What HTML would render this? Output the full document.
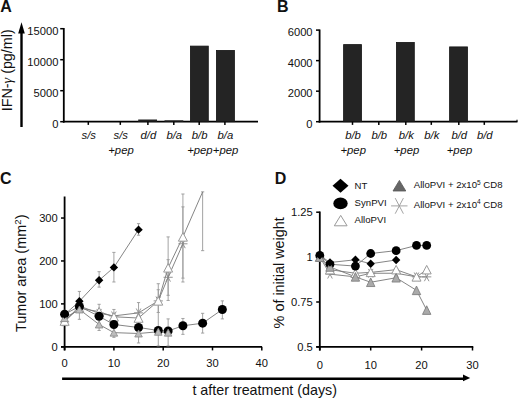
<!DOCTYPE html>
<html><head><meta charset="utf-8"><style>
html,body{margin:0;padding:0;background:#fff;}
svg{display:block;}
text{font-family:"Liberation Sans", sans-serif;}
</style></head><body>
<svg width="520" height="401" viewBox="0 0 520 401">
<rect width="520" height="401" fill="#fff"/>
<text x="0.20" y="12.00" font-size="16" text-anchor="start" font-weight="bold" font-style="normal" fill="#111" >A</text>
<line x1="21.50" y1="127.00" x2="21.50" y2="31.00" stroke="#000" stroke-width="2.4" />
<polygon points="18.20,33.50 24.80,33.50 21.50,22.30" fill="#000" stroke="none" stroke-width="1"/>
<text x="0.00" y="0.00" font-size="14.3" text-anchor="middle" font-weight="normal" font-style="normal" fill="#111" transform="translate(11.6,70.3) rotate(-90)">IFN-<tspan font-family="Liberation Serif" font-style="italic">γ</tspan> (pg/ml)</text>
<line x1="63.80" y1="28.00" x2="63.80" y2="122.60" stroke="#000" stroke-width="1.8" />
<line x1="62.90" y1="121.70" x2="258.00" y2="121.70" stroke="#000" stroke-width="1.8" />
<line x1="60.20" y1="121.70" x2="63.80" y2="121.70" stroke="#000" stroke-width="1.5" />
<text x="58.40" y="127.60" font-size="11.2" text-anchor="end" font-weight="normal" font-style="normal" fill="#111" >0</text>
<line x1="60.20" y1="90.70" x2="63.80" y2="90.70" stroke="#000" stroke-width="1.5" />
<text x="58.40" y="96.60" font-size="11.2" text-anchor="end" font-weight="normal" font-style="normal" fill="#111" >5000</text>
<line x1="60.20" y1="59.70" x2="63.80" y2="59.70" stroke="#000" stroke-width="1.5" />
<text x="58.40" y="65.60" font-size="11.2" text-anchor="end" font-weight="normal" font-style="normal" fill="#111" >10000</text>
<line x1="60.20" y1="28.70" x2="63.80" y2="28.70" stroke="#000" stroke-width="1.5" />
<text x="58.40" y="34.60" font-size="11.2" text-anchor="end" font-weight="normal" font-style="normal" fill="#111" >15000</text>
<rect x="138.20" y="119.50" width="18.80" height="2.20" fill="#222" stroke="none" stroke-width="0.8"/>
<rect x="164.50" y="120.30" width="18.80" height="1.40" fill="#222" stroke="none" stroke-width="0.8"/>
<rect x="190.40" y="46.10" width="17.90" height="75.60" fill="#242424" stroke="#151515" stroke-width="0.8"/>
<rect x="216.40" y="50.40" width="18.00" height="71.30" fill="#242424" stroke="#151515" stroke-width="0.8"/>
<line x1="88.30" y1="121.70" x2="88.30" y2="124.90" stroke="#000" stroke-width="1.5" />
<text x="88.80" y="139.30" font-size="11.3" text-anchor="middle" font-weight="normal" font-style="italic" fill="#111" >s/s</text>
<line x1="120.30" y1="121.70" x2="120.30" y2="124.90" stroke="#000" stroke-width="1.5" />
<text x="120.80" y="139.30" font-size="11.3" text-anchor="middle" font-weight="normal" font-style="italic" fill="#111" >s/s</text>
<text x="121.00" y="154.20" font-size="11.3" text-anchor="middle" font-weight="normal" font-style="italic" fill="#111" >+pep</text>
<line x1="147.90" y1="121.70" x2="147.90" y2="124.90" stroke="#000" stroke-width="1.5" />
<text x="148.40" y="139.30" font-size="11.3" text-anchor="middle" font-weight="normal" font-style="italic" fill="#111" >d/d</text>
<line x1="173.80" y1="121.70" x2="173.80" y2="124.90" stroke="#000" stroke-width="1.5" />
<text x="174.30" y="139.30" font-size="11.3" text-anchor="middle" font-weight="normal" font-style="italic" fill="#111" >b/a</text>
<line x1="199.20" y1="121.70" x2="199.20" y2="124.90" stroke="#000" stroke-width="1.5" />
<text x="199.70" y="139.30" font-size="11.3" text-anchor="middle" font-weight="normal" font-style="italic" fill="#111" >b/b</text>
<text x="199.90" y="154.20" font-size="11.3" text-anchor="middle" font-weight="normal" font-style="italic" fill="#111" >+pep</text>
<line x1="224.90" y1="121.70" x2="224.90" y2="124.90" stroke="#000" stroke-width="1.5" />
<text x="225.40" y="139.30" font-size="11.3" text-anchor="middle" font-weight="normal" font-style="italic" fill="#111" >b/a</text>
<text x="225.60" y="154.20" font-size="11.3" text-anchor="middle" font-weight="normal" font-style="italic" fill="#111" >+pep</text>
<text x="277.00" y="12.00" font-size="16" text-anchor="start" font-weight="bold" font-style="normal" fill="#111" >B</text>
<line x1="319.60" y1="29.50" x2="319.60" y2="122.60" stroke="#000" stroke-width="1.8" />
<line x1="318.70" y1="121.70" x2="517.50" y2="121.70" stroke="#000" stroke-width="1.8" />
<line x1="517.00" y1="121.70" x2="517.00" y2="119.70" stroke="#000" stroke-width="1" />
<line x1="316.00" y1="121.70" x2="319.60" y2="121.70" stroke="#000" stroke-width="1.5" />
<text x="312.60" y="127.60" font-size="11.2" text-anchor="end" font-weight="normal" font-style="normal" fill="#111" >0</text>
<line x1="316.00" y1="91.17" x2="319.60" y2="91.17" stroke="#000" stroke-width="1.5" />
<text x="312.60" y="97.07" font-size="11.2" text-anchor="end" font-weight="normal" font-style="normal" fill="#111" >2000</text>
<line x1="316.00" y1="60.63" x2="319.60" y2="60.63" stroke="#000" stroke-width="1.5" />
<text x="312.60" y="66.53" font-size="11.2" text-anchor="end" font-weight="normal" font-style="normal" fill="#111" >4000</text>
<line x1="316.00" y1="30.10" x2="319.60" y2="30.10" stroke="#000" stroke-width="1.5" />
<text x="312.60" y="36.00" font-size="11.2" text-anchor="end" font-weight="normal" font-style="normal" fill="#111" >6000</text>
<rect x="343.60" y="44.60" width="17.90" height="77.10" fill="#242424" stroke="#151515" stroke-width="0.8"/>
<rect x="396.40" y="42.40" width="17.90" height="79.30" fill="#242424" stroke="#151515" stroke-width="0.8"/>
<rect x="449.60" y="46.90" width="17.90" height="74.80" fill="#242424" stroke="#151515" stroke-width="0.8"/>
<line x1="352.50" y1="121.70" x2="352.50" y2="124.90" stroke="#000" stroke-width="1.5" />
<text x="353.00" y="139.30" font-size="11.3" text-anchor="middle" font-weight="normal" font-style="italic" fill="#111" >b/b</text>
<text x="353.20" y="154.20" font-size="11.3" text-anchor="middle" font-weight="normal" font-style="italic" fill="#111" >+pep</text>
<line x1="378.80" y1="121.70" x2="378.80" y2="124.90" stroke="#000" stroke-width="1.5" />
<text x="379.30" y="139.30" font-size="11.3" text-anchor="middle" font-weight="normal" font-style="italic" fill="#111" >b/b</text>
<line x1="405.80" y1="121.70" x2="405.80" y2="124.90" stroke="#000" stroke-width="1.5" />
<text x="406.30" y="139.30" font-size="11.3" text-anchor="middle" font-weight="normal" font-style="italic" fill="#111" >b/k</text>
<text x="406.50" y="154.20" font-size="11.3" text-anchor="middle" font-weight="normal" font-style="italic" fill="#111" >+pep</text>
<line x1="431.30" y1="121.70" x2="431.30" y2="124.90" stroke="#000" stroke-width="1.5" />
<text x="431.80" y="139.30" font-size="11.3" text-anchor="middle" font-weight="normal" font-style="italic" fill="#111" >b/k</text>
<line x1="458.80" y1="121.70" x2="458.80" y2="124.90" stroke="#000" stroke-width="1.5" />
<text x="459.30" y="139.30" font-size="11.3" text-anchor="middle" font-weight="normal" font-style="italic" fill="#111" >b/d</text>
<text x="459.50" y="154.20" font-size="11.3" text-anchor="middle" font-weight="normal" font-style="italic" fill="#111" >+pep</text>
<line x1="484.30" y1="121.70" x2="484.30" y2="124.90" stroke="#000" stroke-width="1.5" />
<text x="484.80" y="139.30" font-size="11.3" text-anchor="middle" font-weight="normal" font-style="italic" fill="#111" >b/d</text>
<text x="0.00" y="184.40" font-size="16" text-anchor="start" font-weight="bold" font-style="normal" fill="#111" >C</text>
<text x="0.00" y="0.00" font-size="14.5" text-anchor="middle" font-weight="normal" font-style="normal" fill="#111" transform="translate(26.3,273.3) rotate(-90)">Tumor area (mm<tspan font-size="9.5" dy="-5.5">2</tspan><tspan dy="5.5">)</tspan></text>
<line x1="64.60" y1="196.50" x2="64.60" y2="350.40" stroke="#000" stroke-width="1.8" />
<line x1="61.00" y1="346.80" x2="262.00" y2="346.80" stroke="#000" stroke-width="1.8" />
<line x1="61.00" y1="346.80" x2="64.60" y2="346.80" stroke="#000" stroke-width="1.5" />
<text x="57.80" y="350.80" font-size="11.2" text-anchor="end" font-weight="normal" font-style="normal" fill="#111" >0</text>
<line x1="61.00" y1="303.88" x2="64.60" y2="303.88" stroke="#000" stroke-width="1.5" />
<text x="57.80" y="307.88" font-size="11.2" text-anchor="end" font-weight="normal" font-style="normal" fill="#111" >100</text>
<line x1="61.00" y1="260.96" x2="64.60" y2="260.96" stroke="#000" stroke-width="1.5" />
<text x="57.80" y="264.96" font-size="11.2" text-anchor="end" font-weight="normal" font-style="normal" fill="#111" >200</text>
<line x1="61.00" y1="218.04" x2="64.60" y2="218.04" stroke="#000" stroke-width="1.5" />
<text x="57.80" y="222.04" font-size="11.2" text-anchor="end" font-weight="normal" font-style="normal" fill="#111" >300</text>
<line x1="64.60" y1="346.80" x2="64.60" y2="350.40" stroke="#000" stroke-width="1.5" />
<text x="64.60" y="367.30" font-size="11.2" text-anchor="middle" font-weight="normal" font-style="normal" fill="#111" >0</text>
<line x1="113.90" y1="346.80" x2="113.90" y2="350.40" stroke="#000" stroke-width="1.5" />
<text x="113.90" y="367.30" font-size="11.2" text-anchor="middle" font-weight="normal" font-style="normal" fill="#111" >10</text>
<line x1="163.20" y1="346.80" x2="163.20" y2="350.40" stroke="#000" stroke-width="1.5" />
<text x="163.20" y="367.30" font-size="11.2" text-anchor="middle" font-weight="normal" font-style="normal" fill="#111" >20</text>
<line x1="212.50" y1="346.80" x2="212.50" y2="350.40" stroke="#000" stroke-width="1.5" />
<text x="212.50" y="367.30" font-size="11.2" text-anchor="middle" font-weight="normal" font-style="normal" fill="#111" >30</text>
<line x1="261.80" y1="346.80" x2="261.80" y2="350.40" stroke="#000" stroke-width="1.5" />
<text x="261.80" y="367.30" font-size="11.2" text-anchor="middle" font-weight="normal" font-style="normal" fill="#111" >40</text>
<text x="274.80" y="184.20" font-size="16" text-anchor="start" font-weight="bold" font-style="normal" fill="#111" >D</text>
<text x="0.00" y="0.00" font-size="14.4" text-anchor="middle" font-weight="normal" font-style="normal" fill="#111" transform="translate(283.5,272.8) rotate(-90)">% of initial weight</text>
<line x1="319.80" y1="211.50" x2="319.80" y2="350.50" stroke="#000" stroke-width="1.8" />
<line x1="316.20" y1="346.90" x2="473.30" y2="346.90" stroke="#000" stroke-width="1.8" />
<line x1="316.20" y1="346.90" x2="319.80" y2="346.90" stroke="#000" stroke-width="1.5" />
<text x="312.80" y="350.90" font-size="11.2" text-anchor="end" font-weight="normal" font-style="normal" fill="#111" >0.5</text>
<line x1="316.20" y1="302.00" x2="319.80" y2="302.00" stroke="#000" stroke-width="1.5" />
<text x="312.80" y="306.00" font-size="11.2" text-anchor="end" font-weight="normal" font-style="normal" fill="#111" >0.75</text>
<line x1="316.20" y1="257.10" x2="319.80" y2="257.10" stroke="#000" stroke-width="1.5" />
<text x="312.80" y="261.10" font-size="11.2" text-anchor="end" font-weight="normal" font-style="normal" fill="#111" >1</text>
<line x1="316.20" y1="212.20" x2="319.80" y2="212.20" stroke="#000" stroke-width="1.5" />
<text x="312.80" y="216.20" font-size="11.2" text-anchor="end" font-weight="normal" font-style="normal" fill="#111" >1.25</text>
<line x1="319.80" y1="346.90" x2="319.80" y2="350.50" stroke="#000" stroke-width="1.5" />
<text x="319.80" y="369.00" font-size="11.2" text-anchor="middle" font-weight="normal" font-style="normal" fill="#111" >0</text>
<line x1="370.70" y1="346.90" x2="370.70" y2="350.50" stroke="#000" stroke-width="1.5" />
<text x="370.70" y="369.00" font-size="11.2" text-anchor="middle" font-weight="normal" font-style="normal" fill="#111" >10</text>
<line x1="421.60" y1="346.90" x2="421.60" y2="350.50" stroke="#000" stroke-width="1.5" />
<text x="421.60" y="369.00" font-size="11.2" text-anchor="middle" font-weight="normal" font-style="normal" fill="#111" >20</text>
<line x1="472.50" y1="346.90" x2="472.50" y2="350.50" stroke="#000" stroke-width="1.5" />
<text x="472.50" y="369.00" font-size="11.2" text-anchor="middle" font-weight="normal" font-style="normal" fill="#111" >30</text>
<line x1="79.39" y1="291.43" x2="79.39" y2="319.33" stroke="#999" stroke-width="0.9" />
<line x1="77.79" y1="291.43" x2="80.99" y2="291.43" stroke="#999" stroke-width="0.9" />
<line x1="77.79" y1="319.33" x2="80.99" y2="319.33" stroke="#999" stroke-width="0.9" />
<line x1="99.11" y1="304.31" x2="99.11" y2="330.49" stroke="#999" stroke-width="0.9" />
<line x1="97.51" y1="304.31" x2="100.71" y2="304.31" stroke="#999" stroke-width="0.9" />
<line x1="97.51" y1="330.49" x2="100.71" y2="330.49" stroke="#999" stroke-width="0.9" />
<line x1="113.90" y1="309.46" x2="113.90" y2="337.36" stroke="#999" stroke-width="0.9" />
<line x1="112.30" y1="309.46" x2="115.50" y2="309.46" stroke="#999" stroke-width="0.9" />
<line x1="112.30" y1="337.36" x2="115.50" y2="337.36" stroke="#999" stroke-width="0.9" />
<line x1="138.55" y1="302.59" x2="138.55" y2="342.94" stroke="#999" stroke-width="0.9" />
<line x1="136.95" y1="302.59" x2="140.15" y2="302.59" stroke="#999" stroke-width="0.9" />
<line x1="136.95" y1="342.94" x2="140.15" y2="342.94" stroke="#999" stroke-width="0.9" />
<line x1="158.27" y1="283.71" x2="158.27" y2="345.94" stroke="#999" stroke-width="0.9" />
<line x1="156.67" y1="283.71" x2="159.87" y2="283.71" stroke="#999" stroke-width="0.9" />
<line x1="156.67" y1="345.94" x2="159.87" y2="345.94" stroke="#999" stroke-width="0.9" />
<line x1="158.27" y1="289.72" x2="158.27" y2="312.46" stroke="#999" stroke-width="0.9" />
<line x1="156.67" y1="289.72" x2="159.87" y2="289.72" stroke="#999" stroke-width="0.9" />
<line x1="156.67" y1="312.46" x2="159.87" y2="312.46" stroke="#999" stroke-width="0.9" />
<line x1="168.13" y1="236.92" x2="168.13" y2="300.45" stroke="#999" stroke-width="0.9" />
<line x1="166.53" y1="236.92" x2="169.73" y2="236.92" stroke="#999" stroke-width="0.9" />
<line x1="166.53" y1="300.45" x2="169.73" y2="300.45" stroke="#999" stroke-width="0.9" />
<line x1="168.13" y1="259.67" x2="168.13" y2="295.30" stroke="#999" stroke-width="0.9" />
<line x1="166.53" y1="259.67" x2="169.73" y2="259.67" stroke="#999" stroke-width="0.9" />
<line x1="166.53" y1="295.30" x2="169.73" y2="295.30" stroke="#999" stroke-width="0.9" />
<line x1="168.13" y1="318.90" x2="168.13" y2="345.94" stroke="#999" stroke-width="0.9" />
<line x1="166.53" y1="318.90" x2="169.73" y2="318.90" stroke="#999" stroke-width="0.9" />
<line x1="166.53" y1="345.94" x2="169.73" y2="345.94" stroke="#999" stroke-width="0.9" />
<line x1="182.92" y1="194.00" x2="182.92" y2="281.99" stroke="#999" stroke-width="0.9" />
<line x1="181.32" y1="194.00" x2="184.52" y2="194.00" stroke="#999" stroke-width="0.9" />
<line x1="181.32" y1="281.99" x2="184.52" y2="281.99" stroke="#999" stroke-width="0.9" />
<line x1="182.92" y1="206.88" x2="182.92" y2="278.13" stroke="#999" stroke-width="0.9" />
<line x1="181.32" y1="206.88" x2="184.52" y2="206.88" stroke="#999" stroke-width="0.9" />
<line x1="181.32" y1="278.13" x2="184.52" y2="278.13" stroke="#999" stroke-width="0.9" />
<line x1="202.64" y1="191.86" x2="202.64" y2="250.66" stroke="#999" stroke-width="0.9" />
<line x1="201.04" y1="191.86" x2="204.24" y2="191.86" stroke="#999" stroke-width="0.9" />
<line x1="201.04" y1="250.66" x2="204.24" y2="250.66" stroke="#999" stroke-width="0.9" />
<line x1="99.11" y1="271.69" x2="99.11" y2="287.14" stroke="#999" stroke-width="0.9" />
<line x1="97.51" y1="271.69" x2="100.71" y2="271.69" stroke="#999" stroke-width="0.9" />
<line x1="97.51" y1="287.14" x2="100.71" y2="287.14" stroke="#999" stroke-width="0.9" />
<line x1="113.90" y1="252.38" x2="113.90" y2="281.99" stroke="#999" stroke-width="0.9" />
<line x1="112.30" y1="252.38" x2="115.50" y2="252.38" stroke="#999" stroke-width="0.9" />
<line x1="112.30" y1="281.99" x2="115.50" y2="281.99" stroke="#999" stroke-width="0.9" />
<line x1="138.55" y1="223.62" x2="138.55" y2="235.21" stroke="#999" stroke-width="0.9" />
<line x1="136.95" y1="223.62" x2="140.15" y2="223.62" stroke="#999" stroke-width="0.9" />
<line x1="136.95" y1="235.21" x2="140.15" y2="235.21" stroke="#999" stroke-width="0.9" />
<line x1="182.92" y1="318.47" x2="182.92" y2="334.35" stroke="#999" stroke-width="0.9" />
<line x1="181.32" y1="318.47" x2="184.52" y2="318.47" stroke="#999" stroke-width="0.9" />
<line x1="181.32" y1="334.35" x2="184.52" y2="334.35" stroke="#999" stroke-width="0.9" />
<line x1="202.64" y1="313.32" x2="202.64" y2="333.07" stroke="#999" stroke-width="0.9" />
<line x1="201.04" y1="313.32" x2="204.24" y2="313.32" stroke="#999" stroke-width="0.9" />
<line x1="201.04" y1="333.07" x2="204.24" y2="333.07" stroke="#999" stroke-width="0.9" />
<line x1="222.36" y1="300.88" x2="222.36" y2="318.90" stroke="#999" stroke-width="0.9" />
<line x1="220.76" y1="300.88" x2="223.96" y2="300.88" stroke="#999" stroke-width="0.9" />
<line x1="220.76" y1="318.90" x2="223.96" y2="318.90" stroke="#999" stroke-width="0.9" />
<line x1="64.60" y1="310.32" x2="64.60" y2="323.19" stroke="#999" stroke-width="0.9" />
<line x1="63.00" y1="310.32" x2="66.20" y2="310.32" stroke="#999" stroke-width="0.9" />
<line x1="63.00" y1="323.19" x2="66.20" y2="323.19" stroke="#999" stroke-width="0.9" />
<polyline points="64.60,318.04 79.39,309.46 99.11,324.48 113.90,332.64 138.55,333.49 158.27,331.78 168.13,332.64" fill="none" stroke="#777" stroke-width="0.9"/>
<polyline points="64.60,321.91 79.39,306.03 99.11,313.32 113.90,315.90 138.55,312.89 158.27,300.88 168.13,277.27 182.92,243.79" fill="none" stroke="#777" stroke-width="0.9"/>
<polyline points="64.60,321.05 79.39,308.17 99.11,311.61 113.90,316.76 138.55,318.04 158.27,300.88 168.13,267.83 182.92,236.92 202.64,191.86" fill="none" stroke="#777" stroke-width="0.9"/>
<polyline points="64.60,314.18 79.39,306.46 99.11,316.33 113.90,324.48 138.55,327.49 158.27,330.49 168.13,330.92 182.92,325.77 202.64,323.19 222.36,309.46" fill="none" stroke="#777" stroke-width="0.9"/>
<polyline points="64.60,314.61 79.39,301.30 99.11,280.27 113.90,267.40 138.55,229.63" fill="none" stroke="#777" stroke-width="0.9"/>
<line x1="60.00" y1="321.91" x2="69.20" y2="321.91" stroke="#888" stroke-width="0.9" />
<line x1="62.30" y1="317.54" x2="66.90" y2="326.28" stroke="#888" stroke-width="0.9" />
<line x1="66.90" y1="317.54" x2="62.30" y2="326.28" stroke="#888" stroke-width="0.9" />
<line x1="74.79" y1="306.03" x2="83.99" y2="306.03" stroke="#888" stroke-width="0.9" />
<line x1="77.09" y1="301.66" x2="81.69" y2="310.40" stroke="#888" stroke-width="0.9" />
<line x1="81.69" y1="301.66" x2="77.09" y2="310.40" stroke="#888" stroke-width="0.9" />
<line x1="94.51" y1="313.32" x2="103.71" y2="313.32" stroke="#888" stroke-width="0.9" />
<line x1="96.81" y1="308.95" x2="101.41" y2="317.69" stroke="#888" stroke-width="0.9" />
<line x1="101.41" y1="308.95" x2="96.81" y2="317.69" stroke="#888" stroke-width="0.9" />
<line x1="109.30" y1="315.90" x2="118.50" y2="315.90" stroke="#888" stroke-width="0.9" />
<line x1="111.60" y1="311.53" x2="116.20" y2="320.27" stroke="#888" stroke-width="0.9" />
<line x1="116.20" y1="311.53" x2="111.60" y2="320.27" stroke="#888" stroke-width="0.9" />
<line x1="133.95" y1="312.89" x2="143.15" y2="312.89" stroke="#888" stroke-width="0.9" />
<line x1="136.25" y1="308.52" x2="140.85" y2="317.26" stroke="#888" stroke-width="0.9" />
<line x1="140.85" y1="308.52" x2="136.25" y2="317.26" stroke="#888" stroke-width="0.9" />
<line x1="153.67" y1="300.88" x2="162.87" y2="300.88" stroke="#888" stroke-width="0.9" />
<line x1="155.97" y1="296.51" x2="160.57" y2="305.25" stroke="#888" stroke-width="0.9" />
<line x1="160.57" y1="296.51" x2="155.97" y2="305.25" stroke="#888" stroke-width="0.9" />
<line x1="163.53" y1="277.27" x2="172.73" y2="277.27" stroke="#888" stroke-width="0.9" />
<line x1="165.83" y1="272.90" x2="170.43" y2="281.64" stroke="#888" stroke-width="0.9" />
<line x1="170.43" y1="272.90" x2="165.83" y2="281.64" stroke="#888" stroke-width="0.9" />
<line x1="178.32" y1="243.79" x2="187.52" y2="243.79" stroke="#888" stroke-width="0.9" />
<line x1="180.62" y1="239.42" x2="185.22" y2="248.16" stroke="#888" stroke-width="0.9" />
<line x1="185.22" y1="239.42" x2="180.62" y2="248.16" stroke="#888" stroke-width="0.9" />
<polygon points="60.10,325.30 64.60,316.80 69.10,325.30" fill="#fff" stroke="#999" stroke-width="1"/>
<polygon points="74.89,312.42 79.39,303.92 83.89,312.42" fill="#fff" stroke="#999" stroke-width="1"/>
<polygon points="94.61,315.86 99.11,307.36 103.61,315.86" fill="#fff" stroke="#999" stroke-width="1"/>
<polygon points="109.40,321.01 113.90,312.51 118.40,321.01" fill="#fff" stroke="#999" stroke-width="1"/>
<polygon points="134.05,322.29 138.55,313.79 143.05,322.29" fill="#fff" stroke="#999" stroke-width="1"/>
<polygon points="153.77,305.13 158.27,296.63 162.77,305.13" fill="#fff" stroke="#999" stroke-width="1"/>
<polygon points="163.63,272.08 168.13,263.58 172.63,272.08" fill="#fff" stroke="#999" stroke-width="1"/>
<polygon points="178.42,241.17 182.92,232.67 187.42,241.17" fill="#fff" stroke="#999" stroke-width="1"/>
<ellipse cx="64.60" cy="314.18" rx="4.5" ry="4.5" fill="#000"/>
<ellipse cx="79.39" cy="306.46" rx="4.5" ry="4.5" fill="#000"/>
<ellipse cx="99.11" cy="316.33" rx="4.5" ry="4.5" fill="#000"/>
<ellipse cx="113.90" cy="324.48" rx="4.5" ry="4.5" fill="#000"/>
<ellipse cx="138.55" cy="327.49" rx="4.5" ry="4.5" fill="#000"/>
<ellipse cx="158.27" cy="330.49" rx="4.5" ry="4.5" fill="#000"/>
<ellipse cx="168.13" cy="330.92" rx="4.5" ry="4.5" fill="#000"/>
<ellipse cx="182.92" cy="325.77" rx="4.5" ry="4.5" fill="#000"/>
<ellipse cx="202.64" cy="323.19" rx="4.5" ry="4.5" fill="#000"/>
<ellipse cx="222.36" cy="309.46" rx="4.5" ry="4.5" fill="#000"/>
<polygon points="60.80,321.54 64.60,314.54 68.40,321.54" fill="#bdbdbd" stroke="#888" stroke-width="0.8"/>
<polygon points="75.59,312.96 79.39,305.96 83.19,312.96" fill="#bdbdbd" stroke="#888" stroke-width="0.8"/>
<polygon points="95.31,327.98 99.11,320.98 102.91,327.98" fill="#bdbdbd" stroke="#888" stroke-width="0.8"/>
<polygon points="110.10,336.14 113.90,329.14 117.70,336.14" fill="#bdbdbd" stroke="#888" stroke-width="0.8"/>
<polygon points="134.75,336.99 138.55,329.99 142.35,336.99" fill="#bdbdbd" stroke="#888" stroke-width="0.8"/>
<polygon points="154.47,335.28 158.27,328.28 162.07,335.28" fill="#bdbdbd" stroke="#888" stroke-width="0.8"/>
<polygon points="164.33,336.14 168.13,329.14 171.93,336.14" fill="#bdbdbd" stroke="#888" stroke-width="0.8"/>
<polygon points="60.40,314.61 64.60,310.41 68.80,314.61 64.60,318.81" fill="#000" stroke="none" stroke-width="1"/>
<polygon points="75.19,301.30 79.39,297.10 83.59,301.30 79.39,305.50" fill="#000" stroke="none" stroke-width="1"/>
<polygon points="94.91,280.27 99.11,276.07 103.31,280.27 99.11,284.47" fill="#000" stroke="none" stroke-width="1"/>
<polygon points="109.70,267.40 113.90,263.20 118.10,267.40 113.90,271.60" fill="#000" stroke="none" stroke-width="1"/>
<polygon points="134.35,229.63 138.55,225.43 142.75,229.63 138.55,233.83" fill="#000" stroke="none" stroke-width="1"/>
<polyline points="319.80,257.10 329.98,266.98 355.43,276.86 370.70,282.24 396.15,277.75 416.51,290.33 426.69,310.08" fill="none" stroke="#777" stroke-width="0.9"/>
<polyline points="319.80,257.10 329.98,274.16 355.43,276.86 370.70,273.26 396.15,273.26 416.51,276.86 426.69,276.86" fill="none" stroke="#777" stroke-width="0.9"/>
<polyline points="319.80,257.10 329.98,269.67 355.43,273.26 370.70,272.37 396.15,269.67 416.51,276.86 426.69,269.67" fill="none" stroke="#777" stroke-width="0.9"/>
<polyline points="319.80,255.30 329.98,264.28 355.43,266.08 370.70,253.51 396.15,250.63 416.51,245.43 426.69,245.43" fill="none" stroke="#777" stroke-width="0.9"/>
<polyline points="319.80,255.30 329.98,262.49 355.43,259.79 370.70,263.75 396.15,259.97" fill="none" stroke="#777" stroke-width="0.9"/>
<line x1="315.20" y1="257.10" x2="324.40" y2="257.10" stroke="#888" stroke-width="0.9" />
<line x1="317.50" y1="252.73" x2="322.10" y2="261.47" stroke="#888" stroke-width="0.9" />
<line x1="322.10" y1="252.73" x2="317.50" y2="261.47" stroke="#888" stroke-width="0.9" />
<line x1="325.38" y1="274.16" x2="334.58" y2="274.16" stroke="#888" stroke-width="0.9" />
<line x1="327.68" y1="269.79" x2="332.28" y2="278.53" stroke="#888" stroke-width="0.9" />
<line x1="332.28" y1="269.79" x2="327.68" y2="278.53" stroke="#888" stroke-width="0.9" />
<line x1="350.83" y1="276.86" x2="360.03" y2="276.86" stroke="#888" stroke-width="0.9" />
<line x1="353.13" y1="272.49" x2="357.73" y2="281.23" stroke="#888" stroke-width="0.9" />
<line x1="357.73" y1="272.49" x2="353.13" y2="281.23" stroke="#888" stroke-width="0.9" />
<line x1="366.10" y1="273.26" x2="375.30" y2="273.26" stroke="#888" stroke-width="0.9" />
<line x1="368.40" y1="268.89" x2="373.00" y2="277.63" stroke="#888" stroke-width="0.9" />
<line x1="373.00" y1="268.89" x2="368.40" y2="277.63" stroke="#888" stroke-width="0.9" />
<line x1="391.55" y1="273.26" x2="400.75" y2="273.26" stroke="#888" stroke-width="0.9" />
<line x1="393.85" y1="268.89" x2="398.45" y2="277.63" stroke="#888" stroke-width="0.9" />
<line x1="398.45" y1="268.89" x2="393.85" y2="277.63" stroke="#888" stroke-width="0.9" />
<line x1="411.91" y1="276.86" x2="421.11" y2="276.86" stroke="#888" stroke-width="0.9" />
<line x1="414.21" y1="272.49" x2="418.81" y2="281.23" stroke="#888" stroke-width="0.9" />
<line x1="418.81" y1="272.49" x2="414.21" y2="281.23" stroke="#888" stroke-width="0.9" />
<line x1="422.09" y1="276.86" x2="431.29" y2="276.86" stroke="#888" stroke-width="0.9" />
<line x1="424.39" y1="272.49" x2="428.99" y2="281.23" stroke="#888" stroke-width="0.9" />
<line x1="428.99" y1="272.49" x2="424.39" y2="281.23" stroke="#888" stroke-width="0.9" />
<polygon points="315.30,261.35 319.80,252.85 324.30,261.35" fill="#fff" stroke="#999" stroke-width="1"/>
<polygon points="325.48,273.92 329.98,265.42 334.48,273.92" fill="#fff" stroke="#999" stroke-width="1"/>
<polygon points="350.93,277.51 355.43,269.01 359.93,277.51" fill="#fff" stroke="#999" stroke-width="1"/>
<polygon points="366.20,276.62 370.70,268.12 375.20,276.62" fill="#fff" stroke="#999" stroke-width="1"/>
<polygon points="391.65,273.92 396.15,265.42 400.65,273.92" fill="#fff" stroke="#999" stroke-width="1"/>
<polygon points="412.01,281.11 416.51,272.61 421.01,281.11" fill="#fff" stroke="#999" stroke-width="1"/>
<polygon points="422.19,273.92 426.69,265.42 431.19,273.92" fill="#fff" stroke="#999" stroke-width="1"/>
<ellipse cx="319.80" cy="255.30" rx="4.4" ry="4.4" fill="#000"/>
<ellipse cx="329.98" cy="264.28" rx="4.4" ry="4.4" fill="#000"/>
<ellipse cx="355.43" cy="266.08" rx="4.4" ry="4.4" fill="#000"/>
<ellipse cx="370.70" cy="253.51" rx="4.4" ry="4.4" fill="#000"/>
<ellipse cx="396.15" cy="250.63" rx="4.4" ry="4.4" fill="#000"/>
<ellipse cx="416.51" cy="245.43" rx="4.4" ry="4.4" fill="#000"/>
<ellipse cx="426.69" cy="245.43" rx="4.4" ry="4.4" fill="#000"/>
<polygon points="315.60,261.40 319.80,252.80 324.00,261.40" fill="#aaa" stroke="#777" stroke-width="0.8"/>
<polygon points="325.78,271.28 329.98,262.68 334.18,271.28" fill="#aaa" stroke="#777" stroke-width="0.8"/>
<polygon points="351.23,281.16 355.43,272.56 359.63,281.16" fill="#aaa" stroke="#777" stroke-width="0.8"/>
<polygon points="366.50,286.54 370.70,277.94 374.90,286.54" fill="#aaa" stroke="#777" stroke-width="0.8"/>
<polygon points="391.95,282.05 396.15,273.45 400.35,282.05" fill="#aaa" stroke="#777" stroke-width="0.8"/>
<polygon points="412.31,294.63 416.51,286.03 420.71,294.63" fill="#aaa" stroke="#777" stroke-width="0.8"/>
<polygon points="422.49,314.38 426.69,305.78 430.89,314.38" fill="#aaa" stroke="#777" stroke-width="0.8"/>
<polygon points="315.60,255.30 319.80,251.10 324.00,255.30 319.80,259.50" fill="#000" stroke="none" stroke-width="1"/>
<polygon points="325.78,262.49 329.98,258.29 334.18,262.49 329.98,266.69" fill="#000" stroke="none" stroke-width="1"/>
<polygon points="351.23,259.79 355.43,255.59 359.63,259.79 355.43,263.99" fill="#000" stroke="none" stroke-width="1"/>
<polygon points="366.50,263.75 370.70,259.55 374.90,263.75 370.70,267.95" fill="#000" stroke="none" stroke-width="1"/>
<polygon points="391.95,259.97 396.15,255.77 400.35,259.97 396.15,264.17" fill="#000" stroke="none" stroke-width="1"/>
<polygon points="332.50,185.80 340.50,178.80 348.50,185.80 340.50,192.80" fill="#000" stroke="none" stroke-width="1"/>
<text x="354.60" y="188.60" font-size="9.6" text-anchor="start" font-weight="normal" font-style="normal" fill="#111" >NT</text>
<ellipse cx="340.50" cy="203.40" rx="7.2" ry="5.8" fill="#000"/>
<text x="354.60" y="206.40" font-size="9.6" text-anchor="start" font-weight="normal" font-style="normal" fill="#111" >SynPVI</text>
<polygon points="334.30,225.80 340.70,215.40 347.10,225.80" fill="#fff" stroke="#999" stroke-width="1"/>
<text x="354.60" y="223.40" font-size="9.6" text-anchor="start" font-weight="normal" font-style="normal" fill="#111" >AlloPVI</text>
<polygon points="393.00,191.00 399.40,180.40 405.80,191.00" fill="#666" stroke="#555" stroke-width="0.8"/>
<text x="413.80" y="188.00" font-size="9.6" text-anchor="start" font-weight="normal" font-style="normal" fill="#111" >AlloPVI + 2x10<tspan font-size="6.5" dy="-3.5">5</tspan><tspan dy="3.5"> CD8</tspan></text>
<line x1="391.10" y1="205.90" x2="407.50" y2="205.90" stroke="#999" stroke-width="0.9" />
<line x1="395.20" y1="198.11" x2="403.40" y2="213.69" stroke="#999" stroke-width="0.9" />
<line x1="403.40" y1="198.11" x2="395.20" y2="213.69" stroke="#999" stroke-width="0.9" />
<text x="413.80" y="207.60" font-size="9.6" text-anchor="start" font-weight="normal" font-style="normal" fill="#111" >AlloPVI + 2x10<tspan font-size="6.5" dy="-3.5">4</tspan><tspan dy="3.5"> CD8</tspan></text>
<line x1="62.10" y1="378.80" x2="464.50" y2="378.80" stroke="#000" stroke-width="2.5" />
<polygon points="463.00,374.60 463.00,381.20 470.20,377.90" fill="#000" stroke="none" stroke-width="1"/>
<text x="192.40" y="395.20" font-size="14.3" text-anchor="start" font-weight="normal" font-style="normal" fill="#111" >t after treatment (days)</text>
</svg>
</body></html>
